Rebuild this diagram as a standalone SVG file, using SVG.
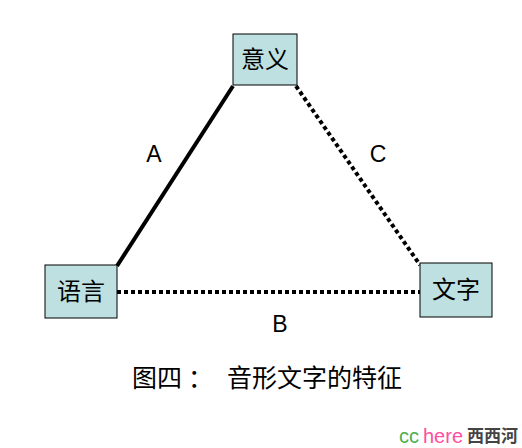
<svg xmlns="http://www.w3.org/2000/svg" width="522" height="448" viewBox="0 0 522 448">
<style>
.box{fill:#bfe0e0;stroke:#000;stroke-width:1}
.t{font-family:"Noto Sans CJK SC","Liberation Sans",sans-serif;font-size:24px;fill:#000;text-anchor:middle}
.c{font-family:"Noto Sans CJK SC","Liberation Sans",sans-serif;font-size:25px;fill:#000}
.l{font-family:"Liberation Sans",sans-serif;font-size:23px;fill:#000;text-anchor:middle}
.solid{stroke:#000;stroke-width:4;fill:none}
.dot{stroke:#000;stroke-width:4;fill:none;stroke-dasharray:4 3}
</style>
<rect width="522" height="448" fill="#fff"/>
<g id="connectors">
<line class="solid" x1="233" y1="86" x2="117" y2="266"/>
<line class="dot" x1="296" y1="86" x2="420" y2="265"/>
<line class="dot" x1="117" y1="292" x2="420" y2="292"/>
</g>
<g id="node-meaning"><rect class="box" x="233" y="34" width="64" height="51"/><text class="t" x="265" y="68">意义</text></g>
<g id="node-language"><rect class="box" x="45" y="265" width="72" height="53"/><text class="t" x="81" y="300">语言</text></g>
<g id="node-writing"><rect class="box" x="420" y="263" width="72" height="54"/><text class="t" x="456" y="298">文字</text></g>
<text class="l" x="154" y="162">A</text>
<text class="l" x="378" y="162">C</text>
<text class="l" x="280" y="332">B</text>
<text class="c" y="387"><tspan x="132">图四</tspan><tspan x="188">：</tspan><tspan x="227">音形文字的特征</tspan></text>
<text x="399" y="443" font-family="'Liberation Sans',sans-serif" font-size="20px"><tspan fill="#4caf50">cc</tspan><tspan fill="#ff4fa0" dx="4">here</tspan></text>
<text x="467" y="442" font-family="'Noto Sans CJK SC',sans-serif" font-size="17px" font-weight="bold" fill="#444">西西河</text>
</svg>
